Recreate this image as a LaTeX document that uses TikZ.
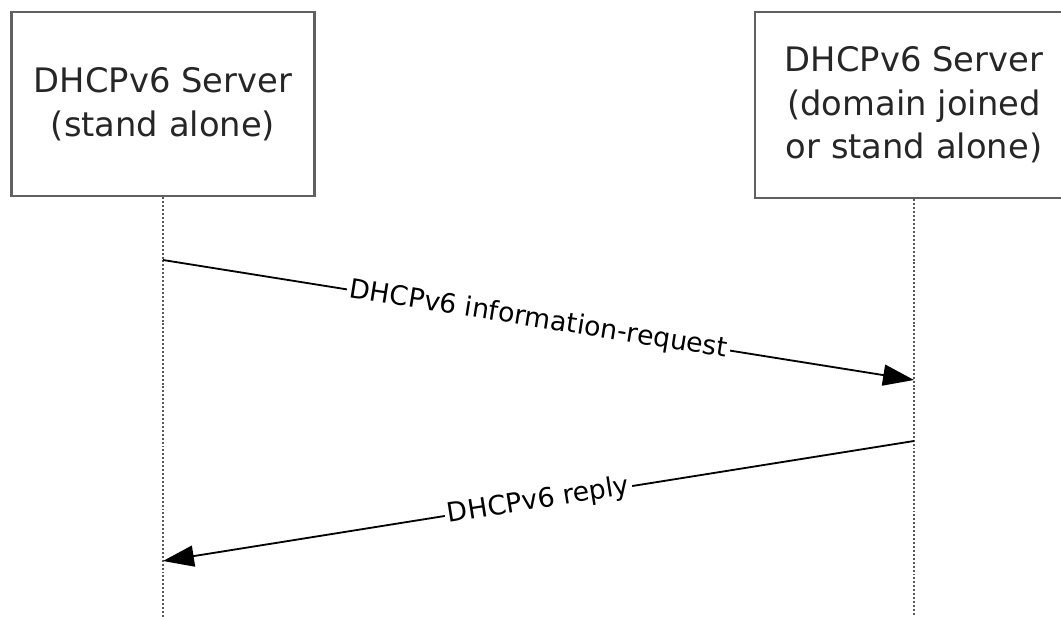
\documentclass[tikz,border=0pt]{standalone}
\usepackage{fontspec}
\setmainfont{DejaVu Sans}
\usetikzlibrary{arrows.meta}
\begin{document}
\begin{tikzpicture}[x = .025cm, y = -.025cm,
    actor/.style = {draw = gray!75!black, line width = 2.1pt, fill = white,
      align = center, font = \fontsize{24}{31}\selectfont, text = black!85},
    life/.style = {gray!70!black, line width = 1.4pt, dash pattern = on 1.4pt off 1.4pt},
    msg/.style = {line width = 1.3pt, -{Triangle[length = 22pt, width = 15pt]}},
    lbl/.style = {fill = white, sloped, inner sep = 2pt, font = \fontsize{19}{22}\selectfont}]
    \useasboundingbox (0,0) rectangle (1061,617);
    \node [actor, minimum width = 303*.025cm, minimum height = 184*.025cm]
      (client) at (163,104) {DHCPv6 Server\\(stand alone)};
    \node [actor, minimum width = 318*.025cm, minimum height = 186*.025cm]
      (server) at (914,105) {DHCPv6 Server\\(domain joined\\or stand alone)};
    \coordinate (clientEnd) at (163,617);
    \coordinate (serverEnd) at (914,617);
    \draw [life] (client.south) -- (clientEnd);
    \draw [life] (server.south) -- (serverEnd);
    \coordinate (req0) at (163,260);
    \coordinate (req1) at (914,380);
    \coordinate (rep0) at (914,441);
    \coordinate (rep1) at (163,561);
    \draw [msg] (req0) -- node [lbl] {DHCPv6 information-request} (req1);
    \draw [msg] (rep0) -- node [lbl] {DHCPv6 reply} (rep1);
  \end{tikzpicture}
\end{document}
